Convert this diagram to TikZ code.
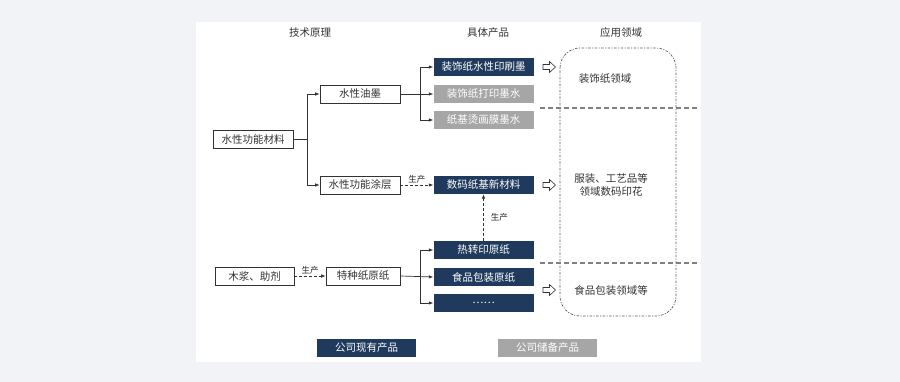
\documentclass[tikz,border=0pt]{standalone}
\usepackage{fontspec}
\setmainfont{Noto Sans CJK SC}
\usetikzlibrary{arrows.meta}
\definecolor{navy}{HTML}{1F3A5C}
\definecolor{gbox}{HTML}{A6A6A6}
\definecolor{outerbg}{HTML}{F1F3F6}
\definecolor{linec}{HTML}{333333}
\begin{document}
\begin{tikzpicture}[x=1pt,y=-1pt,
  txt/.style={font=\fontsize{10.5}{12.5}\selectfont, text=black!80},
  wbox/.style={draw=linec, line width=0.6pt, fill=white, minimum height=18pt, inner sep=0pt, font=\fontsize{10.5}{12}\selectfont, text=black!80},
  nbox/.style={fill=navy, minimum width=100pt, minimum height=18pt, inner sep=0pt, font=\fontsize{10.5}{12}\selectfont, text=white},
  gbx/.style={fill=gbox, minimum width=100pt, minimum height=18pt, inner sep=0pt, font=\fontsize{10.5}{12}\selectfont, text=white},
  conn/.style={draw=linec, line width=0.7pt, -{Latex[length=4.5pt,width=3.5pt]}},
  dconn/.style={draw=linec, line width=0.7pt, dash pattern=on 3pt off 2pt, -{Latex[length=4.5pt,width=3.5pt]}},
  lbl/.style={font=\fontsize{8.5}{9}\selectfont, text=black!85, inner sep=1pt},
  hollow/.style={draw=linec, line width=0.6pt, fill=white, line join=miter},
  sep/.style={draw=gray, line width=1.2pt, dash pattern=on 5pt off 3pt}
]
\useasboundingbox (0,0) rectangle (900,382);
\fill[outerbg] (0,0) rectangle (900,382);
\fill[white] (196,22) rectangle (701,362);

% titles
\node[txt] (t1) at (310,33) {技术原理};
\node[txt] (t2) at (488,33) {具体产品};
\node[txt] (t3) at (621,33) {应用领域};

% application region
\draw[gray!70!black, line width=0.7pt, dash pattern=on 1pt off 1.5pt on 2.5pt off 1.5pt, rounded corners=20pt] (560,48) rectangle (676,316);
\draw[sep] (540,108) -- (700,108);
\draw[sep] (540,263) -- (700,263);
\node[txt] (a1) at (605,79) {装饰纸领域};
\node[txt, align=center] (a2) at (611,185) {服装、工艺品等\\领域数码印花};
\node[txt] (a3) at (611,290) {食品包装领域等};

% left nodes
\node[wbox, minimum width=80pt] (m) at (253,139.5) {水性功能材料};
\node[wbox, minimum width=80pt] (ink) at (360,94) {水性油墨};
\node[wbox, minimum width=80pt] (coat) at (360,185) {水性功能涂层};
\node[wbox, minimum width=79pt] (pulp) at (254.5,276) {木浆、助剂};
\node[wbox, minimum width=74pt] (raw) at (363,276) {特种纸原纸};

% product nodes
\node[nbox] (p1) at (483.5,67) {装饰纸水性印刷墨};
\node[gbx] (p2) at (483.5,94) {装饰纸打印墨水};
\node[gbx] (p3) at (483.5,120) {纸基烫画膜墨水};
\node[nbox] (p4) at (483.5,185) {数码纸基新材料};
\node[nbox] (p5) at (483.5,250) {热转印原纸};
\node[nbox] (p6) at (483.5,277) {食品包装原纸};
\node[nbox] (p7) at (483.5,303) {……};

% legend
\node[nbox, minimum width=99pt] (l1) at (366.5,348) {公司现有产品};
\node[gbx, minimum width=99pt] (l2) at (547.5,348) {公司储备产品};

% connectors
\coordinate (j1) at (307,139.5);
\draw[draw=linec, line width=0.7pt] (m.east) -- (j1);
\draw[conn] (j1) |- (ink.west);
\draw[conn] (j1) |- (coat.west);

\coordinate (j2) at (420,94);
\draw[conn] (ink.east) -- (p2.west);
\draw[conn] (j2) |- (p1.west);
\draw[conn] (j2) |- (p3.west);

\draw[dconn] (coat.east) -- node[lbl, above] {生产} (p4.west);
\draw[dconn] (p5.north) -- node[lbl, right, xshift=6pt] {生产} (p4.south);
\draw[dconn] (pulp.east) -- node[lbl, above] {生产} (raw.west);

\coordinate (j3) at (420,276.5);
\draw[conn] (raw.east) -- (p6.west);
\draw[conn] (j3) |- (p5.west);
\draw[conn] (j3) |- (p7.west);

% hollow arrows
\foreach \yy in {67,185,290}{
  \draw[hollow] (543,\yy-2.5) -- (549.5,\yy-2.5) -- (549.5,\yy-5.5) -- (555.5,\yy) -- (549.5,\yy+5.5) -- (549.5,\yy+2.5) -- (543,\yy+2.5) -- cycle;
}
\end{tikzpicture}
\end{document}
